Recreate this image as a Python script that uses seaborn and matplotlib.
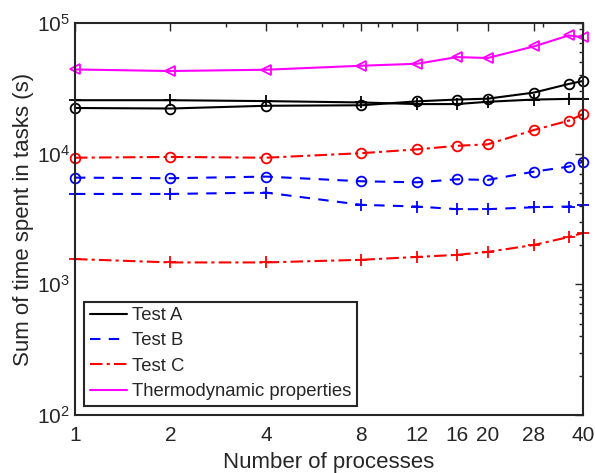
import numpy as np
import pandas as pd
import matplotlib
matplotlib.use("Agg")
import matplotlib.pyplot as plt
import matplotlib.ticker as mticker
from matplotlib.lines import Line2D
import seaborn as sns

# number of processes
procs = [1, 2, 4, 8, 12, 16, 20, 28, 36, 40]

# sum of time spent in tasks (s)
test_a_circle = [22400, 22200, 23300, 23500, 25200, 26000, 26400, 29400, 34200, 36100]
test_a_plus = [25700, 25700, 25300, 24700, 24000, 24000, 25000, 26000, 26300, 26300]
test_b_circle = [6560, 6490, 6680, 6150, 6040, 6370, 6300, 7290, 7960, 8690]
test_b_plus = [4920, 4920, 5040, 4060, 3940, 3760, 3760, 3890, 3940, 4030]
test_c_circle = [9320, 9450, 9320, 10100, 10800, 11500, 11800, 15200, 17900, 20100]
test_c_plus = [1560, 1470, 1470, 1540, 1620, 1680, 1770, 2000, 2300, 2470]
thermo = [44200, 43000, 44000, 47200, 48900, 55000, 54100, 66400, 80500, 78200]

xtick_labels = ["1", "2", "4", "8", "12", "16", "20", "28", "40"]

sns.set_style("white")
plt.rcParams["font.family"] = ["Liberation Sans", "DejaVu Sans"]
plt.rcParams["mathtext.fontset"] = "custom"
plt.rcParams["mathtext.rm"] = "Liberation Sans"
plt.rcParams["mathtext.it"] = "Liberation Sans"
plt.rcParams["mathtext.default"] = "regular"

fig = plt.figure(figsize=(5.95, 4.73), dpi=100)
ax = fig.add_axes([0.126, 0.123, 0.854, 0.828])

dash_b = (0, (5, 4))
dash_c = (0, (6, 2, 1.5, 2))
series = [
    (test_a_plus, "black", "-", "+"),
    (test_a_circle, "black", "-", "o"),
    (test_b_circle, "blue", dash_b, "o"),
    (test_b_plus, "blue", dash_b, "+"),
    (test_c_circle, "red", dash_c, "o"),
    (test_c_plus, "red", dash_c, "+"),
    (thermo, "magenta", "-", "<"),
]

for vals, col, ls, mk in series:
    sns.lineplot(x=procs, y=vals, ax=ax, color=col, linestyle=ls, marker=mk,
                 markersize=7 if mk != "+" else 9, markerfacecolor="none",
                 markeredgecolor=col, markeredgewidth=1.3, linewidth=1.5,
                 legend=False, clip_on=False)

ax.set_xscale("log")
ax.set_yscale("log")
ax.set_xlim(1, 40)
ax.set_ylim(1e2, 1e5)
ax.set_xticks([1, 2, 4, 8, 12, 16, 20, 28, 40])
ax.set_xticklabels(xtick_labels)
ax.xaxis.set_minor_locator(mticker.FixedLocator([3, 5, 6, 7, 9, 10, 30]))
ax.xaxis.set_minor_formatter(mticker.NullFormatter())
ax.yaxis.set_minor_locator(mticker.LogLocator(base=10, subs=np.arange(2, 10)))

ax.tick_params(which="both", direction="in", top=True, right=True, labelsize=15,
               color="#262626", width=1)
ax.tick_params(which="major", length=6)
ax.tick_params(which="minor", length=3)
ax.tick_params(axis="x", pad=8)
for sp in ax.spines.values():
    sp.set_linewidth(1.5)
    sp.set_color("#262626")

ax.set_xlabel("Number of processes", fontsize=16, labelpad=5)
ax.set_ylabel("Sum of time spent in tasks (s)", fontsize=16, labelpad=2)

handles = [
    Line2D([], [], color="black", linestyle="-", linewidth=1.5),
    Line2D([], [], color="blue", linestyle=dash_b, linewidth=1.5),
    Line2D([], [], color="red", linestyle=dash_c, linewidth=1.5),
    Line2D([], [], color="magenta", linestyle="-", linewidth=1.5),
]
labels = ["Test A", "Test B", "Test C", "Thermodynamic properties"]
leg = ax.legend(handles, labels, loc="lower left", bbox_to_anchor=(0.0, 0.0),
                fontsize=13.3, frameon=True, fancybox=False, framealpha=1,
                edgecolor="#262626", handlelength=2.0, handletextpad=0.3,
                borderpad=0.3, labelspacing=0.45, borderaxespad=0.5)
leg.get_frame().set_linewidth(1.5)

fig.savefig("out.png", dpi=100)
